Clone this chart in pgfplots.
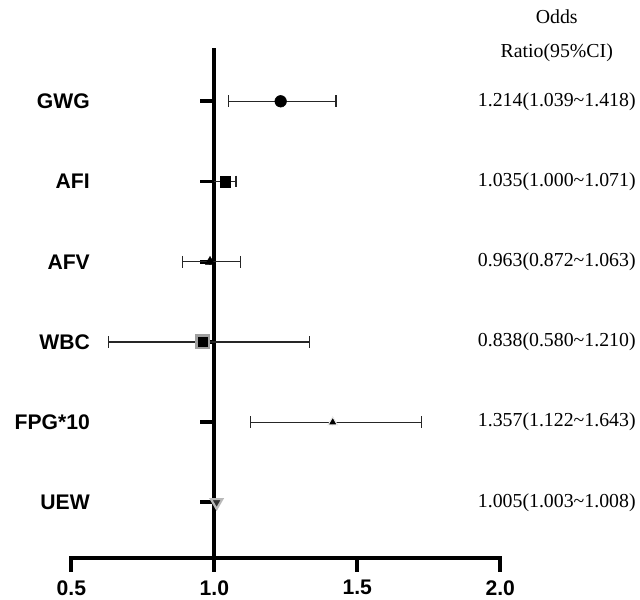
\documentclass[border=0pt]{standalone}
\usepackage{fontspec}
\setmainfont{Liberation Serif}
\setsansfont{Liberation Sans}
\usepackage{pgfplots}
\pgfplotsset{compat=1.18}

\pgfplotsset{
  ci/.style={only marks, black,
    error bars/x dir=both, error bars/x explicit,
    error bars/error mark=none,
    error bars/error bar style={line width=1pt, black!85}},
}

\begin{document}
\begin{tikzpicture}
\begin{axis}[
  scale only axis,
  width=324.75pt, height=386.25pt,
  xmin=0.5, xmax=2.0, ymin=0.31, ymax=6.67,
  clip=false,
  axis x line*=bottom,
  axis y line*=left,
  y axis line style={draw=none},
  x axis line style={line width=3.2pt, line cap=rect},
  xtick={0.5,1.0,1.5,2.0},
  xticklabels={0.5,1.0,1.5,2.0},
  tick align=outside,
  major tick length=10.5pt,
  x tick style={line width=3.2pt, black},
  ytick={1,2,3,4,5,6},
  yticklabels={UEW,FPG*10,WBC,AFV,AFI,GWG},
  y tick style={draw=none},
  tick label style={font=\sffamily\bfseries\fontsize{16}{18}\selectfont},
  xticklabel style={yshift=-3pt},
  yticklabel style={anchor=east, xshift=28pt},
]
% reference line at OR = 1
\draw[line width=3.2pt] (axis cs:1,0.31) -- (axis cs:1,6.67);
\pgfplotsinvokeforeach{1,...,6}{
  \draw[line width=3pt] ([xshift=-10.5pt]axis cs:1,#1) -- (axis cs:1,#1);
}

% CI whiskers (line) and their end caps
\addplot[ci, mark=none] coordinates {
  (1.232,6) -= (0.182,0) += (0.193,0)
  (1.038,5) -= (0.038,0) += (0.038,0)
  (0.985,4) -= (0.096,0) += (0.107,0)
  (0.96,3)  -= (0.33,0)  += (0.373,0)
  (1.414,2) -= (0.288,0) += (0.31,0)
};
\addplot[only marks, mark=|, mark size=4.5pt, mark options={line width=1pt, draw=black!85}] coordinates {
  (1.05,6) (1.425,6)
  (1.076,5)
  (0.889,4) (1.092,4)
  (0.63,3) (1.333,3)
  (1.126,2) (1.724,2)
};

% GWG
\addplot[only marks, black, mark=*, mark size=4.4pt] coordinates {(1.232,6)};
% AFI
\addplot[only marks, black, mark=square*, mark size=4pt] coordinates {(1.038,5)};
% AFV
\addplot[only marks, black, mark=triangle*, mark size=4pt] coordinates {(0.985,4)};
% WBC
\addplot[only marks, mark=square*, mark size=4.8pt, mark options={fill=black, draw=gray!75, line width=1.8pt}]
  coordinates {(0.96,3)};
% FPG*10
\addplot[only marks, mark=triangle*, mark size=4pt, mark options={fill=black, draw=gray!15, line width=0.8pt}]
  coordinates {(1.414,2)};
% UEW
\addplot[only marks, mark=triangle*, mark size=5pt, mark options={rotate=180, fill=black!80, draw=gray!55, line width=1.6pt}]
  coordinates {(1.008,1)};

\begin{scope}[every node/.style={font=\fontsize{15}{16}\selectfont}]
\node at ([xshift=42.75pt]axis cs:2,7.05) {Odds};
\node at ([xshift=42.75pt]axis cs:2,6.6) {Ratio(95\%CI)};
\node at ([xshift=42.75pt]axis cs:2,6) {1.214(1.039\textasciitilde 1.418)};
\node at ([xshift=42.75pt]axis cs:2,5) {1.035(1.000\textasciitilde 1.071)};
\node at ([xshift=42.75pt]axis cs:2,4) {0.963(0.872\textasciitilde 1.063)};
\node at ([xshift=42.75pt]axis cs:2,3) {0.838(0.580\textasciitilde 1.210)};
\node at ([xshift=42.75pt]axis cs:2,2) {1.357(1.122\textasciitilde 1.643)};
\node at ([xshift=42.75pt]axis cs:2,1) {1.005(1.003\textasciitilde 1.008)};
\end{scope}
\end{axis}
\path[use as bounding box] ([xshift=-54pt,yshift=-29.25pt]current axis.south west)
  rectangle ([xshift=101.25pt,yshift=36pt]current axis.north east);
\end{tikzpicture}
\end{document}
